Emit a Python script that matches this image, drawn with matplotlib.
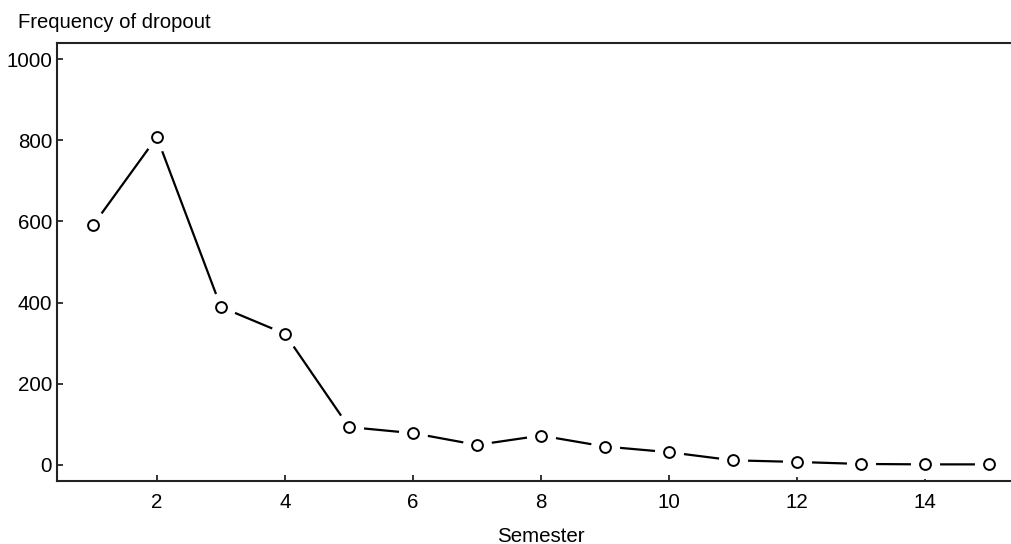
import matplotlib
matplotlib.use("Agg")
import matplotlib.pyplot as plt

semester = [1, 2, 3, 4, 5, 6, 7, 8, 9, 10, 11, 12, 13, 14, 15]
dropout = [590, 808, 389, 323, 93, 78, 49, 72, 45, 31, 11, 7, 2, 1, 1]
xticks = [2, 4, 6, 8, 10, 12, 14]
yticks = [0, 200, 400, 600, 800, 1000]

plt.rcParams['font.family'] = ['Liberation Sans', 'DejaVu Sans']

W, H = 1012, 544
fig = plt.figure(figsize=(W / 100, H / 100), dpi=100)
left, right, top, bottom = 57, 1025, 43, 481
ax = fig.add_axes([left / W, (H - bottom) / H, (right - left) / W, (bottom - top) / H])

ax.plot(semester, dropout, color='black', lw=1.6, zorder=2, clip_on=False)
ax.plot(semester, dropout, ls='none', marker='o', ms=21, mfc='white', mec='none', zorder=3, clip_on=False)
ax.plot(semester, dropout, ls='none', marker='o', ms=7.8, mfc='white', mec='black', mew=1.4, zorder=4, clip_on=False)

ax.set_xlim(0.44, 15.56)
ax.set_ylim(-40, 1040)
ax.set_xticks(xticks)
ax.set_yticks(yticks)
ax.tick_params(direction='in', length=4.3, width=1.1, labelsize=14.8, color='black')
ax.tick_params(axis='y', pad=3.5)
ax.tick_params(axis='x', pad=9)
ax.spines['right'].set_visible(False)
for s in ax.spines.values():
    s.set_linewidth(1.5)
    s.set_color('#222222')

fig.text(18 / W, 1 - 28 / H, 'Frequency of dropout', fontsize=14.6, va='baseline', ha='left')
fig.text(541 / W, 1 - 542 / H, 'Semester', fontsize=14.8, va='baseline', ha='center')

fig.savefig('out.png', dpi=100)
